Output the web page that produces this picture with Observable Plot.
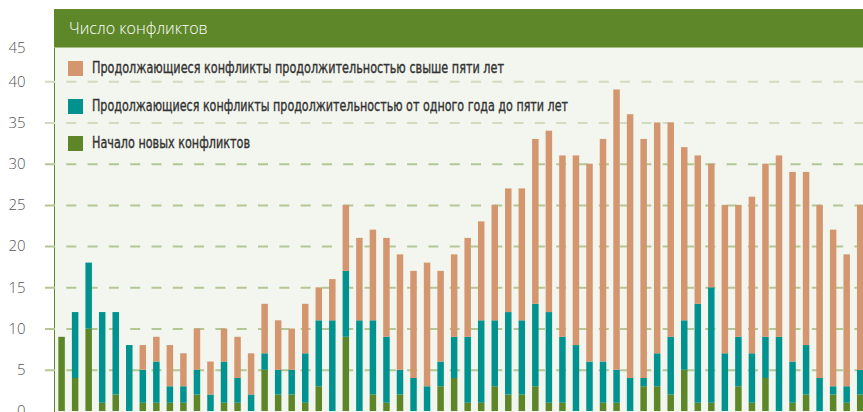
<!DOCTYPE html>
<html><head><meta charset="utf-8">
<script src="https://cdn.jsdelivr.net/npm/d3@7"></script>
<script src="https://cdn.jsdelivr.net/npm/@observablehq/plot@0.6"></script>
<style>
html,body{margin:0;padding:0;background:#fff;overflow:hidden}
#wrap{position:relative;width:863px;height:412px;overflow:hidden}
#panel{position:absolute;left:54px;top:48px;width:809px;height:364px;background:#f3f6ee;border-left:1.5px solid #5d8729;box-sizing:border-box}
#chart{position:absolute;left:0;top:0}
#header{position:absolute;left:54px;top:9px;width:809px;height:39px;background:#5d8729;border-bottom:1px solid #a7bf88;box-sizing:border-box;color:#fff;font:300 16px "Open Sans",sans-serif;padding-left:15px;line-height:38px}
#legend{position:absolute;left:68px;top:59px;font:400 15px "Liberation Sans Narrow","DejaVu Sans Condensed",sans-serif;color:#333;-webkit-text-stroke:0.35px #333}
.row{position:absolute;left:0;display:flex;align-items:center;white-space:nowrap}
.sw{width:15px;height:15px;margin-right:9px;flex:none}
.txt{display:inline-block;transform-origin:0 50%}
</style></head>
<body>
<div id="wrap">
  <div id="panel"></div>
  <div id="chart"></div>
  <div id="header">Число конфликтов</div>
  <div id="legend"></div>
</div>
<script>
const years = [1946,1947,1948,1949,1950,1951,1952,1953,1954,1955,1956,1957,1958,1959,1960,1961,1962,1963,1964,1965,1966,1967,1968,1969,1970,1971,1972,1973,1974,1975,1976,1977,1978,1979,1980,1981,1982,1983,1984,1985,1986,1987,1988,1989,1990,1991,1992,1993,1994,1995,1996,1997,1998,1999,2000,2001,2002,2003,2004,2005];
const newConflicts = [9,4,10,1,2,0,1,1,1,1,2,0,1,1,0,5,2,2,1,3,0,9,0,2,1,2,0,0,3,4,1,1,3,2,2,3,1,1,0,0,1,1,0,3,3,2,5,1,1,0,3,1,4,0,1,2,0,2,1,2];
const ongoing1to5 = [0,8,8,11,10,8,4,5,2,2,3,2,5,3,2,2,3,3,6,8,11,8,11,9,8,3,4,3,3,5,8,10,8,10,9,10,11,8,8,6,5,4,4,1,4,7,6,12,14,7,6,6,5,9,5,6,4,1,2,3];
const ongoingOver5 = [0,0,0,0,0,0,3,3,5,4,5,4,4,5,5,6,6,5,6,4,5,8,10,11,12,14,13,15,11,10,12,12,14,15,16,20,22,22,23,24,27,34,32,29,28,26,21,18,15,18,16,19,21,22,23,21,21,19,16,20];
const seriesNames = ["Начало новых конфликтов","Продолжающиеся конфликты продолжительностью от одного года до пяти лет","Продолжающиеся конфликты продолжительностью свыше пяти лет"];
const seriesColors = ["#5c8628","#00928f","#d3966f"];
const legendOrder = [2,1,0];
const yTicks = [0,5,10,15,20,25,30,35,40];
const yTopTick = [45];
const title = "Число конфликтов";

const rows = [];
years.forEach((yr,i)=>{
  rows.push({year:yr, series:seriesNames[0], value:newConflicts[i]});
  rows.push({year:yr, series:seriesNames[1], value:ongoing1to5[i]});
  rows.push({year:yr, series:seriesNames[2], value:ongoingOver5[i]});
});

const chart = Plot.plot({
  width:863, height:412,
  marginLeft:45, marginRight:0, marginTop:40, marginBottom:1,
  style:{background:"transparent", overflow:"visible"},
  x:{type:"band", domain:years, range:[51.3,870.5], padding:0.52, round:false, axis:null},
  y:{domain:[0,45], axis:null},
  color:{domain:seriesNames, range:seriesColors},
  marks:[
    Plot.ruleY(yTicks.filter(d=>d>0 && d<=30), {stroke:"#b2c795", strokeWidth:2, strokeDasharray:"10,11.3"}),
    Plot.ruleY(yTicks.filter(d=>d>30), {stroke:"#cfdcbf", strokeWidth:2, strokeDasharray:"10,11.3"}),
    Plot.barY(rows, {x:"year", y:"value", fill:"series", order:null}),
    Plot.axisY(yTicks, {anchor:"left", tickSize:0, tickPadding:20, fontSize:15, fill:"#555", fontFamily:"Open Sans", fontWeight:300, label:null}),
    Plot.axisY(yTopTick, {anchor:"left", tickSize:0, tickPadding:20, fontSize:15, fill:"#555", fontFamily:"Open Sans", fontWeight:300, label:null, dy:8})
  ]
});
document.getElementById("chart").appendChild(chart);

const leg = document.getElementById("legend");
const tops = [0,38,75];
const targetWidths = [412,476,158];
legendOrder.forEach((s,k)=>{
  const r = document.createElement("div");
  r.className="row"; r.style.top = tops[k]+"px";
  const sw = document.createElement("div"); sw.className="sw"; sw.style.background = seriesColors[s];
  const t = document.createElement("span"); t.className="txt"; t.textContent = seriesNames[s];
  r.appendChild(sw); r.appendChild(t); leg.appendChild(r);
  const w = t.getBoundingClientRect().width;
  if (w > 0) t.style.transform = `scaleX(${targetWidths[k]/w})`;
});
</script>
</body></html>
